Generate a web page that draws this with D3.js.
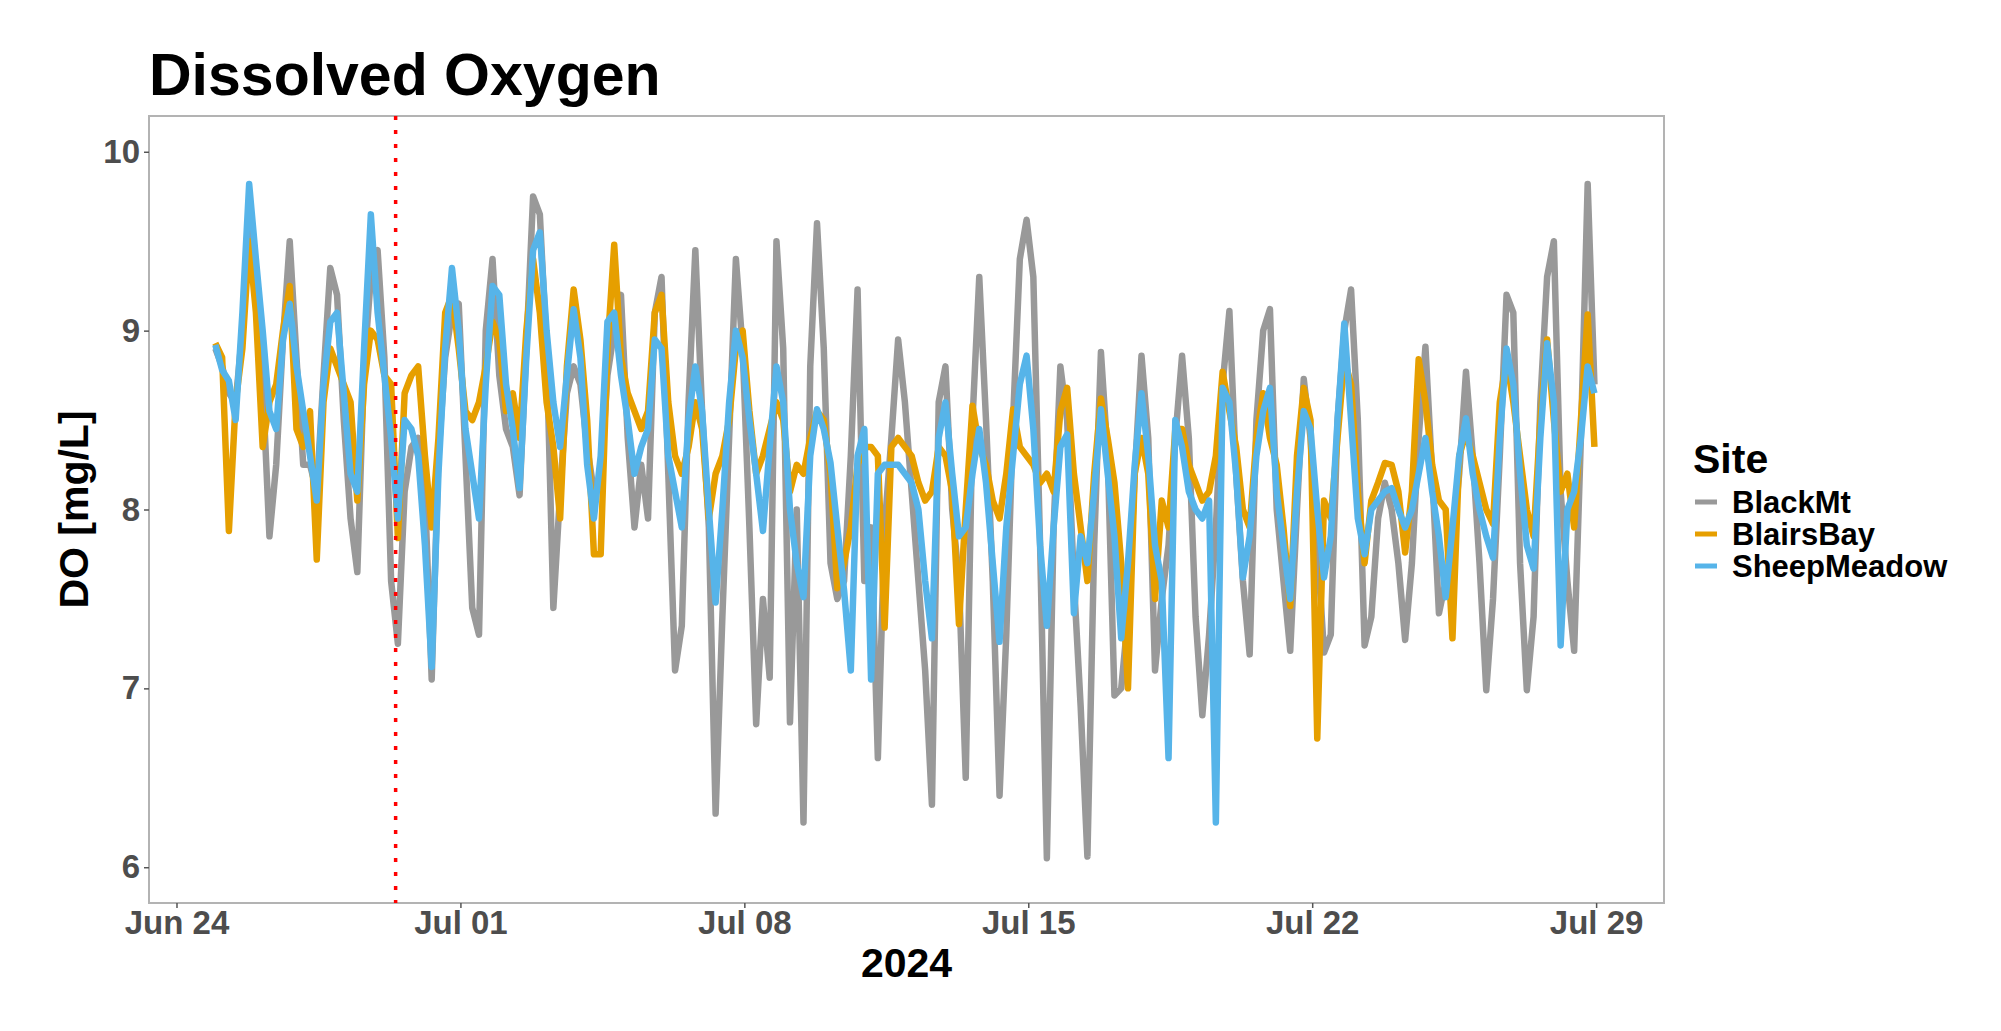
<!DOCTYPE html>
<html>
<head>
<meta charset="utf-8">
<script src="https://cdn.jsdelivr.net/npm/d3@7"></script>
<style>
  html, body { margin: 0; padding: 0; background: #fff; }
  svg { display: block; font-family: "Liberation Sans", Arial, Helvetica, sans-serif; }
</style>
</head>
<body>
<div id="chart"></div>
<script>
// Dissolved oxygen, 4-hourly readings starting Jun 24 23:00
var sites = ["BlackMt", "BlairsBay", "SheepMeadow"];
var siteColors = ["#999999", "#E69F00", "#56B4E9"];
var startTime = "2024-06-24T23:00:00";
var stepHours = 4;

var blackMt = [8.90,
  8.80, 8.65, 8.60, 9.00, 9.65, 9.35,
  8.70, 7.85, 8.25, 8.95, 9.50, 8.85,
  8.25, 8.25, 8.10, 8.75, 9.35, 9.20,
  8.50, 7.95, 7.65, 8.80, 9.30, 9.45,
  8.85, 7.60, 7.25, 8.10, 8.35, 8.40,
  8.10, 7.05, 8.30, 8.85, 9.10, 9.15,
  8.30, 7.45, 7.30, 9.00, 9.40, 8.75,
  8.45, 8.35, 8.08, 8.90, 9.75, 9.65,
  8.90, 7.45, 8.10, 8.65, 8.80, 8.70,
  8.35, 8.10, 8.15, 8.75, 9.00, 9.20,
  8.40, 7.90, 8.25, 7.95, 9.10, 9.30,
  8.20, 7.10, 7.35, 8.60, 9.45, 8.55,
  7.90, 6.30, 7.40, 8.40, 9.40, 8.90,
  7.90, 6.80, 7.50, 7.06, 9.50, 8.90,
  6.81, 8.00, 6.25, 8.80, 9.60, 8.90,
  7.70, 7.50, 7.60, 8.30, 9.23, 7.60,
  7.90, 6.61, 7.90, 8.40, 8.95, 8.60,
  8.10, 7.60, 7.10, 6.35, 8.60, 8.80,
  8.00, 7.60, 6.50, 8.50, 9.30, 8.50,
  7.60, 6.40, 7.30, 8.50, 9.40, 9.62,
  9.30, 7.80, 6.05, 7.90, 8.80, 8.50,
  7.60, 6.90, 6.06, 7.80, 8.88, 8.30,
  6.96, 7.00, 7.40, 8.20, 8.86, 8.40,
  7.10, 7.50, 7.80, 8.40, 8.86, 8.40,
  7.40, 6.85, 7.30, 7.90, 8.70, 9.11,
  8.20, 7.60, 7.19, 8.50, 9.00, 9.12,
  8.00, 7.60, 7.21, 8.00, 8.73, 8.40,
  7.80, 7.20, 7.30, 8.50, 9.00, 9.23,
  8.50, 7.24, 7.40, 7.95, 8.15, 8.00,
  7.70, 7.27, 7.70, 8.40, 8.91, 8.20,
  7.42, 7.60, 7.80, 8.20, 8.77, 8.30,
  7.70, 6.99, 7.50, 8.30, 9.20, 9.10,
  7.70, 6.99, 7.40, 8.60, 9.30, 9.50,
  8.10, 7.60, 7.21, 8.40, 9.82, 8.70];

var blairsBay = [8.93,
  8.85, 7.88, 8.60, 8.90, 9.50, 9.10,
  8.35, 8.60, 8.70, 9.00, 9.25, 8.45,
  8.35, 8.55, 7.72, 8.60, 8.90, 8.80,
  8.70, 8.60, 8.05, 8.70, 9.00, 8.95,
  8.75, 8.70, 7.84, 8.65, 8.75, 8.80,
  8.30, 7.90, 8.40, 9.10, 9.20, 8.90,
  8.55, 8.50, 8.60, 8.80, 9.05, 8.95,
  8.55, 8.65, 8.40, 9.00, 9.40, 9.10,
  8.60, 8.35, 7.95, 8.80, 9.23, 8.95,
  8.50, 7.75, 7.75, 8.90, 9.48, 8.85,
  8.65, 8.55, 8.45, 8.55, 9.10, 9.20,
  8.60, 8.30, 8.20, 8.35, 8.60, 8.45,
  7.95, 8.20, 8.30, 8.50, 8.90, 9.00,
  8.55, 8.20, 8.30, 8.45, 8.60, 8.50,
  8.10, 8.25, 8.20, 8.40, 8.55, 8.50,
  8.20, 7.56, 7.70, 7.90, 8.25, 8.35,
  8.35, 8.30, 7.34, 8.35, 8.40, 8.35,
  8.30, 8.15, 8.05, 8.10, 8.35, 8.30,
  8.10, 7.36, 8.00, 8.58, 8.35, 8.25,
  8.05, 7.95, 8.20, 8.56, 8.35, 8.30,
  8.25, 8.15, 8.20, 8.10, 8.55, 8.68,
  8.20, 7.90, 7.60, 8.20, 8.62, 8.40,
  8.15, 7.70, 7.00, 8.20, 8.40, 8.20,
  7.50, 8.05, 7.90, 8.45, 8.45, 8.25,
  8.15, 8.05, 8.10, 8.30, 8.77, 8.55,
  8.35, 8.00, 7.90, 8.40, 8.65, 8.40,
  8.25, 7.90, 7.46, 8.30, 8.68, 8.50,
  6.72, 8.05, 7.95, 8.40, 8.84, 8.70,
  8.10, 7.70, 8.05, 8.15, 8.26, 8.25,
  8.10, 7.76, 8.10, 8.84, 8.60, 8.25,
  8.05, 8.00, 7.28, 8.30, 8.43, 8.30,
  8.15, 8.00, 7.92, 8.60, 8.84, 8.60,
  8.30, 8.00, 7.85, 8.50, 8.95, 8.50,
  8.10, 8.20, 7.90, 8.50, 9.09, 8.35];

var sheepMeadow = [8.92,
  8.78, 8.72, 8.50, 9.10, 9.82, 9.40,
  9.00, 8.55, 8.45, 8.95, 9.15, 8.80,
  8.55, 8.30, 8.05, 8.70, 9.05, 9.10,
  8.65, 8.20, 8.10, 8.90, 9.65, 9.10,
  8.75, 8.40, 7.95, 8.50, 8.45, 8.30,
  7.80, 7.12, 8.20, 8.90, 9.35, 9.00,
  8.45, 8.20, 7.95, 8.70, 9.25, 9.20,
  8.70, 8.45, 8.12, 8.85, 9.45, 9.55,
  9.00, 8.60, 8.35, 8.75, 9.12, 8.85,
  8.25, 7.95, 8.30, 9.05, 9.10, 8.75,
  8.50, 8.20, 8.35, 8.45, 8.95, 8.90,
  8.30, 8.10, 7.90, 8.50, 8.80, 8.55,
  8.00, 7.48, 8.00, 8.60, 9.00, 8.85,
  8.50, 8.20, 7.88, 8.35, 8.80, 8.60,
  8.00, 7.70, 7.51, 8.30, 8.56, 8.45,
  8.26, 7.90, 7.55, 7.10, 8.30, 8.45,
  7.05, 8.20, 8.25, 8.25, 8.25, 8.20,
  8.15, 8.00, 7.60, 7.28, 8.40, 8.60,
  8.20, 7.85, 7.90, 8.20, 8.45, 8.15,
  7.70, 7.26, 7.90, 8.30, 8.70, 8.86,
  8.45, 7.80, 7.35, 7.90, 8.35, 8.42,
  7.42, 7.85, 7.70, 8.10, 8.56, 8.20,
  7.85, 7.28, 7.70, 8.25, 8.65, 8.30,
  7.80, 7.60, 6.61, 8.50, 8.35, 8.10,
  8.00, 7.95, 8.05, 6.25, 8.68, 8.60,
  8.20, 7.62, 7.85, 8.30, 8.55, 8.68,
  8.10, 7.80, 7.50, 8.10, 8.55, 8.45,
  8.00, 7.62, 7.85, 8.50, 9.04, 8.50,
  7.95, 7.75, 8.00, 8.05, 8.10, 8.12,
  8.00, 7.90, 8.00, 8.20, 8.40, 8.10,
  7.85, 7.51, 7.90, 8.30, 8.51, 8.20,
  8.00, 7.85, 7.73, 8.40, 8.90, 8.70,
  8.20, 7.80, 7.67, 8.40, 8.93, 8.60,
  7.24, 8.00, 8.10, 8.40, 8.80, 8.65];

var xDomain = ["2024-06-23T07:44:00", "2024-07-30T16:10:00"];
var xTicks = ["2024-06-24T00:00:00", "2024-07-01T00:00:00", "2024-07-08T00:00:00",
              "2024-07-15T00:00:00", "2024-07-22T00:00:00", "2024-07-29T00:00:00"];
var yDomain = [5.8, 10.2];
var yTicks = [6, 7, 8, 9, 10];
var markerTime = "2024-06-29T09:40:00";

var W = 2001, H = 1031;
var panel = { left: 149, top: 116, right: 1664, bottom: 903 };

var parse = d3.timeParse("%Y-%m-%dT%H:%M:%S");
var t0 = parse(startTime);

var series = [blackMt, blairsBay, sheepMeadow].map(function(vals, k) {
  return {
    site: sites[k],
    color: siteColors[k],
    values: vals.map(function(v, i) {
      return { time: d3.timeHour.offset(t0, i * stepHours), value: v };
    })
  };
});

var svg = d3.select("#chart").append("svg")
    .attr("width", W)
    .attr("height", H);

svg.append("rect").attr("width", W).attr("height", H).attr("fill", "#fff");

var x = d3.scaleTime().domain(xDomain.map(parse)).range([panel.left, panel.right]);
var y = d3.scaleLinear().domain(yDomain).range([panel.bottom, panel.top]);

// panel border
svg.append("rect")
    .attr("x", panel.left)
    .attr("y", panel.top)
    .attr("width", panel.right - panel.left)
    .attr("height", panel.bottom - panel.top)
    .attr("fill", "none")
    .attr("stroke", "#b3b3b3")
    .attr("stroke-width", 2);

var line = d3.line()
    .x(d => x(d.time))
    .y(d => y(d.value));

svg.append("g").selectAll("path")
    .data(series)
    .join("path")
      .attr("fill", "none")
      .attr("stroke", d => d.color)
      .attr("stroke-width", 6.5)
      .attr("stroke-linejoin", "round")
      .attr("d", d => line(d.values));

// marker line
svg.append("line")
    .attr("x1", x(parse(markerTime)))
    .attr("x2", x(parse(markerTime)))
    .attr("y1", panel.top)
    .attr("y2", panel.bottom)
    .attr("stroke", "#ff0000")
    .attr("stroke-width", 3.5)
    .attr("stroke-dasharray", "4 10");

// axes
var xAxis = svg.append("g")
    .attr("transform", "translate(0," + panel.bottom + ")")
    .call(d3.axisBottom(x)
      .tickValues(xTicks.map(parse))
      .tickFormat(d3.timeFormat("%b %d"))
      .tickSize(5)
      .tickPadding(3)
      .tickSizeOuter(0));

var yAxis = svg.append("g")
    .attr("transform", "translate(" + panel.left + ",0)")
    .call(d3.axisLeft(y)
      .tickValues(yTicks)
      .tickFormat(d3.format("d"))
      .tickSize(5)
      .tickPadding(4)
      .tickSizeOuter(0));

[xAxis, yAxis].forEach(function(g) {
  g.select(".domain").remove();
  g.selectAll(".tick line").attr("stroke", "#555").attr("stroke-width", 1.5);
  g.selectAll(".tick text")
    .attr("fill", "#4d4d4d")
    .attr("font-size", 33)
    .attr("font-weight", "bold")
    .attr("font-family", "Liberation Sans, Arial, sans-serif");
});

// titles
svg.append("text")
    .attr("x", 149)
    .attr("y", 95)
    .attr("font-size", 59)
    .attr("font-weight", "bold")
    .text("Dissolved Oxygen");

svg.append("text")
    .attr("x", (panel.left + panel.right) / 2)
    .attr("y", 977)
    .attr("text-anchor", "middle")
    .attr("font-size", 41)
    .attr("font-weight", "bold")
    .text("2024");

svg.append("text")
    .attr("transform", "translate(88," + ((panel.top + panel.bottom) / 2) + ") rotate(-90)")
    .attr("text-anchor", "middle")
    .attr("font-size", 41)
    .attr("font-weight", "bold")
    .text("DO [mg/L]");

// legend
var legend = svg.append("g").attr("transform", "translate(1693,0)");
legend.append("text")
    .attr("x", 0)
    .attr("y", 473)
    .attr("font-size", 41)
    .attr("font-weight", "bold")
    .text("Site");

var items = legend.selectAll("g.item")
    .data(series)
    .join("g")
      .attr("class", "item")
      .attr("transform", (d, i) => "translate(0," + (502 + i * 32) + ")");

items.append("line")
    .attr("x1", 2).attr("x2", 24)
    .attr("stroke", d => d.color)
    .attr("stroke-width", 5);

items.append("text")
    .attr("x", 39)
    .attr("y", 11)
    .attr("font-size", 31)
    .attr("font-weight", "bold")
    .text(d => d.site);
</script>
</body>
</html>
